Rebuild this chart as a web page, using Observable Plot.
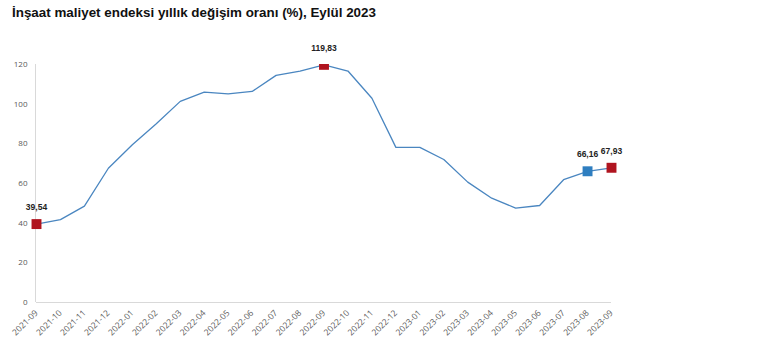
<!DOCTYPE html>
<html>
<head>
<meta charset="utf-8">
<script src="https://cdn.jsdelivr.net/npm/d3@7"></script>
<script src="https://cdn.jsdelivr.net/npm/@observablehq/plot@0.6"></script>
<style>
  body { margin: 0; background: #fff; font-family: "Liberation Sans", Arial, sans-serif; }
  #title { height: 26px; padding-left: 12px; padding-top: 5px; box-sizing: border-box; font-size: 13.4px; font-weight: bold; color: #111; line-height: 16px; }
  svg { display: block; }
</style>
</head>
<body>
<div id="title">İnşaat maliyet endeksi yıllık değişim oranı (%), Eylül 2023</div>
<div id="chart"></div>
<script>
const months = ["2021-09","2021-10","2021-11","2021-12","2022-01","2022-02","2022-03","2022-04","2022-05","2022-06","2022-07","2022-08","2022-09","2022-10","2022-11","2022-12","2023-01","2023-02","2023-03","2023-04","2023-05","2023-06","2023-07","2023-08","2023-09"];
const values = [39.54, 41.8, 48.6, 67.7, 79.5, 90.1, 101.4, 106.1, 105.2, 106.4, 114.5, 116.7, 119.83, 116.7, 103.0, 78.2, 78.2, 72.1, 60.7, 52.6, 47.6, 48.9, 61.9, 66.16, 67.93];
const redMonths = ["2021-09", "2022-09", "2023-09"];
const blueMonths = ["2023-08"];
const labeledMonths = ["2021-09", "2022-09", "2023-08", "2023-09"];
const yTicks = [0, 20, 40, 60, 80, 100, 120];

const data = months.map((m, i) => ({month: m, idx: i, value: values[i]}));
const peak = d3.max(values);
const red = data.filter(d => redMonths.includes(d.month));
const redPeak = red.filter(d => d.value === peak);
const redOther = red.filter(d => d.value !== peak);
const blue = data.filter(d => blueMonths.includes(d.month));
const labeled = data.filter(d => labeledMonths.includes(d.month));
const fmt = v => v.toFixed(2).replace(".", ",");

const chart = Plot.plot({
  width: 769,
  height: 336,
  marginTop: 38,
  marginBottom: 60,
  marginLeft: 36,
  marginRight: 158,
  style: {fontFamily: "'Open Sans', sans-serif", fontSize: "8px", color: "#595959", background: "#fff"},
  x: {type: "linear", domain: [0, months.length - 1], label: null},
  y: {domain: [0, 120], label: null},
  marks: [
    Plot.ruleY([0], {stroke: "#d9d9d9", strokeWidth: 1}),
    Plot.ruleX([0], {y1: 0, y2: 120, stroke: "#d9d9d9", strokeWidth: 1, dx: -1}),
    Plot.axisY({ticks: yTicks, tickSize: 0, tickPadding: 9, fill: "#595959", label: null}),
    Plot.axisX({ticks: d3.range(months.length), tickFormat: i => months[i], tickSize: 0, tickPadding: 9, tickRotate: -45, fill: "#595959", fontSize: 8.5, label: null}),
    Plot.line(data, {x: "idx", y: "value", stroke: "#4a86c0", strokeWidth: 1.3}),
    Plot.dot(redOther, {x: "idx", y: "value", symbol: "square", r: 5.6, fill: "#b0141f", stroke: "none"}),
    Plot.dot(redPeak, {x: "idx", y: "value", symbol: "square", r: 5.6, fill: "#b0141f", stroke: "none", clip: true}),
    Plot.dot(blue, {x: "idx", y: "value", symbol: "square", r: 5.6, fill: "#2e7ec0", stroke: "none"}),
    Plot.text(labeled, {x: "idx", y: "value", text: d => fmt(d.value), dy: -17, fill: "#222", fontWeight: "bold", fontSize: 8.5, fontFamily: "'Liberation Sans', Arial, sans-serif"})
  ]
});
document.getElementById("chart").appendChild(chart);
</script>
</body>
</html>
